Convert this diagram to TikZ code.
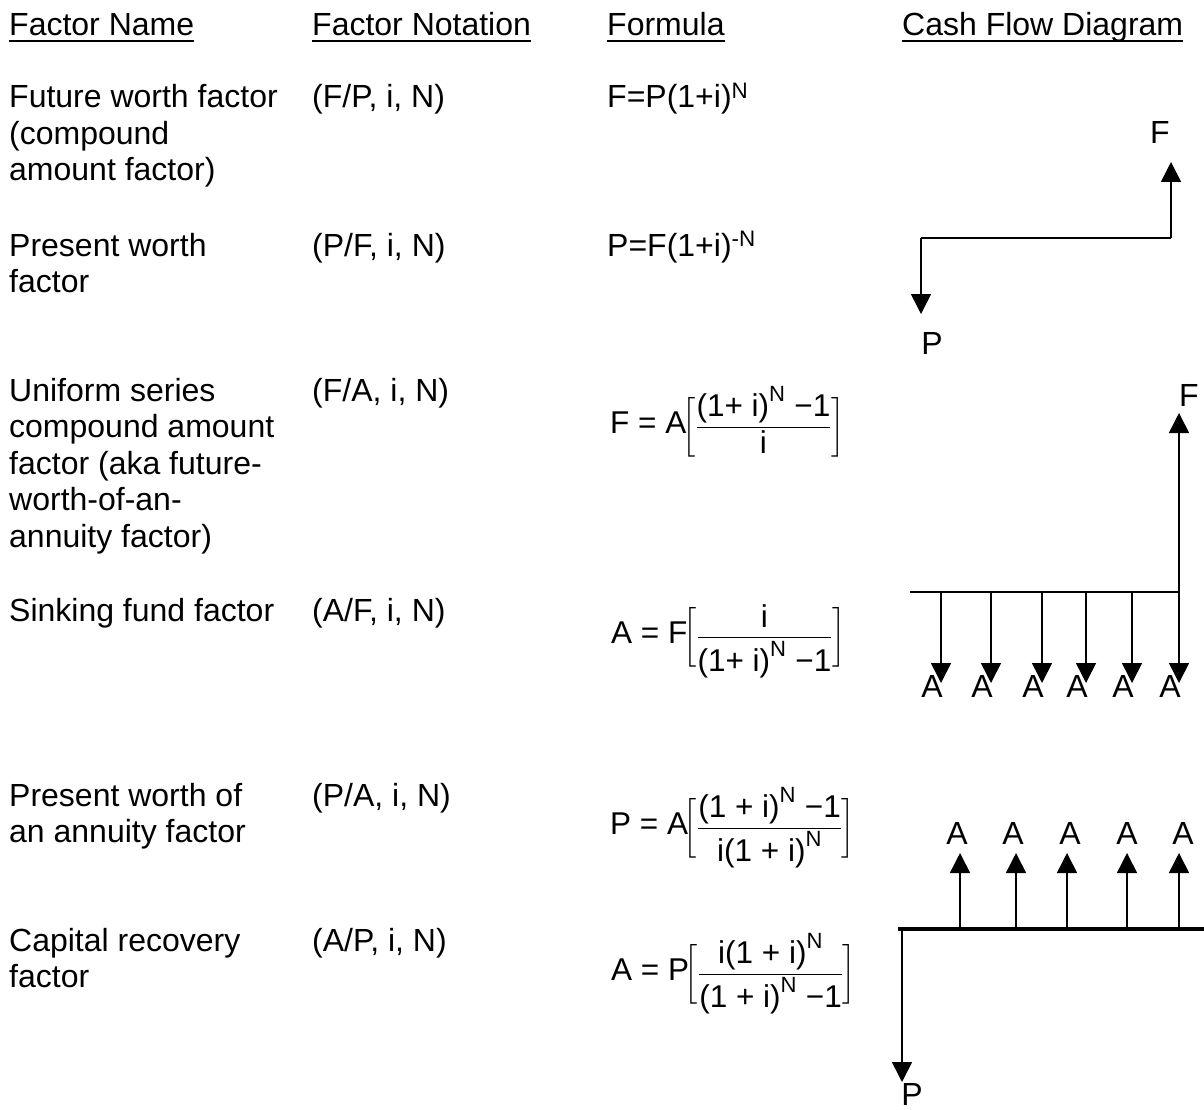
\documentclass[tikz,border=0pt]{standalone}
\usepackage{amsmath}
\usepackage{fontspec}
\setmainfont{Liberation Sans}
\usetikzlibrary{arrows.meta,positioning}

\tikzset{
  txt/.style={font=\fontsize{32}{36.5}\selectfont,inner sep=0pt,anchor=base west,align=left},
  fml/.style={font=\fontsize{31.5}{40}\selectfont,inner sep=0pt,anchor=west},
  lbl/.style={font=\fontsize{32}{37}\selectfont,inner sep=0pt},
  ulin/.style={line width=2pt},
  cf/.style={line width=1.6pt,-{Triangle[length=20pt,width=20pt]}},
  tline/.style={line width=1.6pt},
  thk/.style={line width=4pt}
}

\begin{document}
\begin{tikzpicture}[x=1pt,y=-1pt]
\useasboundingbox (0,0) rectangle (1204,1110);
% --- headings ---
\node[txt] (hname) at (9,36) {Factor Name};
\node[txt] (hnot) at (312,36) {Factor Notation};
\node[txt] (hfml) at (607,36) {Formula};
\node[txt] (hcfd) at (902,36) {Cash Flow Diagram};
\foreach \h in {hname,hnot,hfml,hcfd}{
  \draw[ulin] ([yshift=-5pt]\h.base west) -- ([yshift=-5pt]\h.base east);
}

% --- factor names (placed at the baseline of their last line) ---
\node[txt] (n1) at (9,181) {Future worth factor\\(compound\\amount factor)};
\node[txt] (n2) at (9,292.5) {Present worth\\factor};
\node[txt] (n3) at (9,547) {Uniform series\\compound amount\\factor (aka future-\\worth-of-an-\\annuity factor)};
\node[txt] (n4) at (9,621) {Sinking fund factor};
\node[txt] (n5) at (9,842.5) {Present worth of\\an annuity factor};
\node[txt] (n6) at (9,987.5) {Capital recovery\\factor};

% --- notation ---
\node[txt] (t1) at (312,108) {(F/P, i, N)};
\node[txt] (t2) at (312,256) {(P/F, i, N)};
\node[txt] (t3) at (312,401) {(F/A, i, N)};
\node[txt] (t4) at (312,621) {(A/F, i, N)};
\node[txt] (t5) at (312,806) {(P/A, i, N)};
\node[txt] (t6) at (312,951) {(A/P, i, N)};

% --- formulas ---
\node[txt] (f1) at (607,108) {F=P(1+i)\textsuperscript{N}};
\node[txt] (f2) at (607,256) {P=F(1+i)\textsuperscript{-N}};
\node[fml] (f3) at (610,422) {$\text{F = A}\!\biggl[\dfrac{\text{(1+ i)}^{\text{N}}\text{ −1}}{\text{i}}\biggr]$};
\node[fml] (f4) at (611,641) {$\text{A = F}\!\biggl[\dfrac{\text{i}}{\text{(1+ i)}^{\text{N}}\text{ −1}}\biggr]$};
\node[fml] (f5) at (610,828) {$\text{P = A}\!\biggl[\dfrac{\text{(1 + i)}^{\text{N}}\text{ −1}}{\text{i(1 + i)}^{\text{N}}}\biggr]$};
\node[fml] (f6) at (611,974) {$\text{A = P}\!\biggl[\dfrac{\text{i(1 + i)}^{\text{N}}}{\text{(1 + i)}^{\text{N}}\text{ −1}}\biggr]$};

% --- cash flow: single payment ---
\coordinate (sl) at (921,238);
\coordinate (sr) at (1171,238);
\coordinate (spt) at (921,314);
\coordinate (sft) at (1171,162);
\node[lbl] (sP) at (932,343) {P};
\node[lbl] (sF) at (1160,132) {F};
\draw[tline] (sl) -- (sr);
\draw[cf] (sl) -- (spt);
\draw[cf] (sr) -- (sft);

% --- cash flow: sinking fund ---
\coordinate (kl) at (910,592);
\coordinate (kr) at (1179,592);
\coordinate (kft) at (1179,413);
\node[lbl] (kF) at (1189,395) {F};
\draw[tline] (kl) -- (kr);
\draw[cf] (kr) -- (kft);
\foreach \x/\k in {941/1,991/2,1042/3,1086/4,1132/5,1179/6}{
  \coordinate (ka\k) at (\x,592);
  \coordinate (kt\k) at (\x,683);
  \node[lbl] (kA\k) at (\x-9,686) {A};
  \draw[cf] (ka\k) -- (kt\k);
}

% --- cash flow: annuity ---
\coordinate (ul) at (898,929);
\coordinate (ur) at (1204,929);
\coordinate (upl) at (902,929);
\coordinate (upt) at (902,1082);
\node[lbl] (uP) at (912,1094) {P};
\draw[thk] (ul) -- (ur);
\draw[cf] (upl) -- (upt);
\foreach \x/\l/\k in {960/957/1,1016/1013/2,1067/1070/3,1127/1127/4,1179/1183/5}{
  \coordinate (ua\k) at (\x,929);
  \coordinate (ut\k) at (\x,853);
  \node[lbl] (uA\k) at (\l,833) {A};
  \draw[cf] (ua\k) -- (ut\k);
}
\end{tikzpicture}
\end{document}
